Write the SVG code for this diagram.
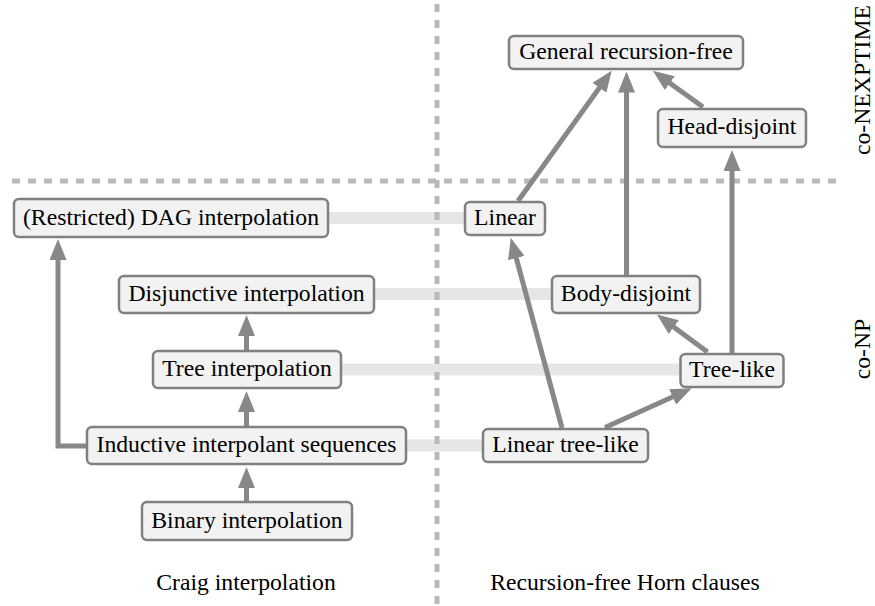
<svg xmlns="http://www.w3.org/2000/svg" width="875" height="606" viewBox="0 0 875 606" font-family="'Liberation Serif','Times New Roman',serif">
<defs>
<style>
.box{fill:#f2f2f2;stroke:#808080;stroke-width:2.5}
.t{font-family:"Liberation Serif","Times New Roman",serif;font-size:23.7px;fill:#000;text-anchor:middle}
.band{stroke:#e6e6e6;stroke-width:12}
.dash{stroke:#b8b8b8;stroke-width:5;stroke-dasharray:8 8;fill:none}
.arr{stroke:#888888;stroke-width:5;fill:none;marker-end:url(#ah)}
</style>
<marker id="ah" markerUnits="userSpaceOnUse" markerWidth="22" markerHeight="17" refX="1" refY="8.5" orient="auto" viewBox="0 0 22 17">
<path d="M0,0 L21,8.5 L0,17 z" fill="#888888"/>
</marker>
</defs>
<rect width="875" height="606" fill="#ffffff"/>
<g id="bands">
<line class="band" x1="328" y1="218" x2="466" y2="218"/>
<line class="band" x1="374" y1="294" x2="553" y2="294"/>
<line class="band" x1="341" y1="369.5" x2="681" y2="369.5"/>
<line class="band" x1="406" y1="445.5" x2="484" y2="445.5"/>
</g>
<g id="dividers">
<line class="dash" x1="437" y1="4" x2="437" y2="606"/>
<line class="dash" x1="12" y1="181" x2="840" y2="181"/>
</g>
<g id="connectors">
<line class="arr" x1="246.5" y1="502" x2="246.5" y2="487"/>
<line class="arr" x1="246.5" y1="427" x2="246.5" y2="411"/>
<line class="arr" x1="246.5" y1="351" x2="246.5" y2="335"/>
<path class="arr" d="M88,446 H58 V259"/>
<line class="arr" x1="518" y1="201" x2="600" y2="87"/>
<line class="arr" x1="626.5" y1="275" x2="626.5" y2="91.5"/>
<line class="arr" x1="703" y1="107" x2="669" y2="82.5"/>
<line class="arr" x1="732" y1="354" x2="732" y2="170"/>
<line class="arr" x1="707.5" y1="352" x2="673" y2="326.5"/>
<line class="arr" x1="605" y1="427.5" x2="673.5" y2="396.5"/>
<line class="arr" x1="562" y1="428" x2="516" y2="257"/>
</g>
<g id="n-dag"><rect class="box" x="14" y="199" width="314" height="38" rx="5"/><text class="t" x="171" y="224.5">(Restricted) DAG interpolation</text></g>
<g id="n-disj"><rect class="box" x="119" y="276" width="255" height="37" rx="5"/><text class="t" x="246.5" y="301">Disjunctive interpolation</text></g>
<g id="n-tree"><rect class="box" x="153" y="351" width="188" height="37" rx="5"/><text class="t" x="247" y="376">Tree interpolation</text></g>
<g id="n-ind"><rect class="box" x="87" y="427" width="319" height="37" rx="5"/><text class="t" x="246.5" y="452">Inductive interpolant sequences</text></g>
<g id="n-bin"><rect class="box" x="142" y="502" width="210" height="38" rx="5"/><text class="t" x="247" y="527.5">Binary interpolation</text></g>
<g id="n-gen"><rect class="box" x="509" y="36" width="234" height="33" rx="5"/><text class="t" x="626" y="59">General recursion-free</text></g>
<g id="n-head"><rect class="box" x="658" y="109" width="148" height="38" rx="5"/><text class="t" x="732" y="134">Head-disjoint</text></g>
<g id="n-lin"><rect class="box" x="465" y="202" width="80" height="33" rx="5"/><text class="t" x="505" y="225">Linear</text></g>
<g id="n-body"><rect class="box" x="552" y="276" width="148" height="37" rx="5"/><text class="t" x="626" y="301">Body-disjoint</text></g>
<g id="n-treelike"><rect class="box" x="680.5" y="354" width="103" height="33" rx="5"/><text class="t" x="732" y="377">Tree-like</text></g>
<g id="n-lintree"><rect class="box" x="483" y="429" width="165" height="33" rx="5"/><text class="t" x="565.5" y="452">Linear tree-like</text></g>
<g id="labels">
<text class="t" x="246" y="590">Craig interpolation</text>
<text class="t" x="625" y="590">Recursion-free Horn clauses</text>
<text class="t" transform="translate(870,80) rotate(-90)">co-NEXPTIME</text>
<text class="t" transform="translate(870,349) rotate(-90)">co-NP</text>
</g>
</svg>
